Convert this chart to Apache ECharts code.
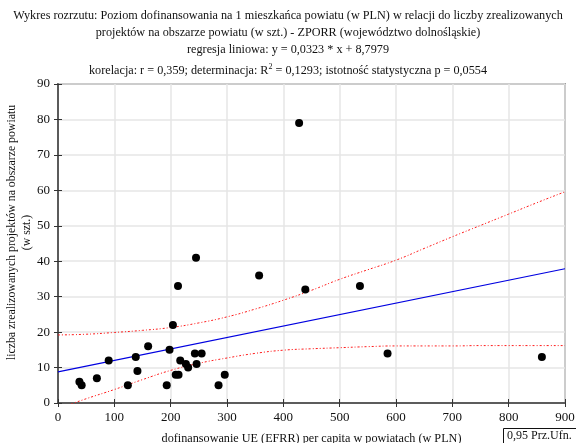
<!DOCTYPE html>
<html><head><meta charset="utf-8">
<script src="https://cdn.jsdelivr.net/npm/echarts@6/dist/echarts.min.js"></script>
<style>html,body{margin:0;padding:0;background:#fff}#c{width:576px;height:443px}</style>
</head><body><div id="c"></div>
<script>
// scatter points: [x (PLN per capita), y (number of projects)]
const pointsX = [38, 42, 69, 90, 124, 138, 141, 160, 193, 198, 204, 213, 209, 214, 217, 227, 231, 243, 246, 255, 245, 285, 296, 357, 428, 439, 536, 585, 859];
const pointsY = [6, 5, 7, 12, 5, 13, 9, 16, 5, 15, 22, 33, 8, 8, 12, 11, 10, 14, 11, 14, 41, 5, 8, 36, 79, 32, 33, 14, 13];
// regression line endpoints (y = 0,0323*x + 8,7979)
const regX = [0, 900];
const regY = [8.8, 37.87];
// 0.95 confidence band
const bandX = [0, 50, 100, 150, 200, 250, 300, 350, 400, 450, 500, 550, 600, 650, 700, 750, 800, 850, 900];
const bandUpper = [19.2, 19.4, 19.9, 20.5, 21.3, 22.6, 24.3, 26.5, 29.0, 31.8, 34.9, 37.6, 40.3, 43.6, 46.9, 50.1, 53.3, 56.5, 59.6];
const bandLower = [-1.6, 1.2, 3.8, 6.6, 9.2, 11.2, 12.7, 14.0, 14.9, 15.3, 15.6, 15.9, 16.1, 16.1, 16.1, 16.2, 16.2, 16.2, 16.2];
const xTicks = {min: 0, max: 900, interval: 100};
const yTicks = {min: 0, max: 90, interval: 10};

const titleLines = [
  'Wykres rozrzutu: Poziom dofinansowania na 1 mieszkańca powiatu (w PLN) w relacji do liczby zrealizowanych',
  'projektów na obszarze powiatu (w szt.) - ZPORR (województwo dolnośląskie)',
  'regresja liniowa: y = 0,0323 * x + 8,7979'
];
const xName = 'dofinansowanie UE (EFRR) per capita w powiatach (w PLN)';
const yName = 'liczba zrealizowanych projektów na obszarze powiatu\n(w szt.)';
const legendText = '0,95 Prz.Ufn.';

const FONT = '"Liberation Serif", "DejaVu Serif", serif';
const chart = echarts.init(document.getElementById('c'), null, {renderer: 'canvas'});
const zip = (a, b) => a.map((v, i) => [v, b[i]]);
const bandStyle = {color: '#ff1a1a', width: 1, type: [2, 2, 1, 2]};
const TS = {fontFamily: FONT, fontSize: 12.2, fontWeight: 'normal', color: '#111'};

const axisCommon = {
  axisLine: {show: true, lineStyle: {color: '#555', width: 1.5}},
  axisTick: {show: true, inside: true, length: 4, lineStyle: {color: '#333'}},
  splitLine: {show: true, lineStyle: {color: '#e6e6e6', width: 1.5}},
  axisLabel: {color: '#111', fontFamily: FONT, fontSize: 13}
};

chart.setOption({
  animation: false,
  backgroundColor: '#fff',
  title: [
    {text: titleLines[0], left: 'center', top: 5, textStyle: TS},
    {text: titleLines[1], left: 'center', top: 22, textStyle: TS},
    {text: titleLines[2], left: 'center', top: 39, textStyle: TS},
    {text: 'korelacja: r = 0,359; determinacja: R{sup|2} = 0,1293; istotność statystyczna p = 0,0554', left: 'center', top: 58,
      textStyle: Object.assign({}, TS, {
        rich: {sup: {fontFamily: FONT, fontSize: 8, color: '#111', padding: [0, 0, 7, 0]}}})}
  ],
  grid: {left: 58, right: 11, top: 84, bottom: 40, show: true, borderColor: '#555', borderWidth: 1.5, containLabel: false, outerBoundsMode: 'none'},
  xAxis: [
    Object.assign({type: 'value', min: xTicks.min, max: xTicks.max, interval: xTicks.interval,
      name: xName, nameLocation: 'middle', nameGap: 30, nameMoveOverlap: false,
      nameTextStyle: {fontFamily: FONT, fontSize: 12.2, color: '#111'}}, axisCommon),
    {type: 'value', position: 'top', min: xTicks.min, max: xTicks.max, interval: xTicks.interval,
      axisLine: {show: true, lineStyle: {color: '#555', width: 1.5}}, axisTick: {show: true, inside: true, length: 4, lineStyle: {color: '#333'}},
      axisLabel: {show: false}, splitLine: {show: false}}
  ],
  yAxis: [
    Object.assign({type: 'value', min: yTicks.min, max: yTicks.max, interval: yTicks.interval,
      name: yName, nameLocation: 'middle', nameGap: 24, nameMoveOverlap: false,
      nameTextStyle: {fontFamily: FONT, fontSize: 11.8, color: '#111', lineHeight: 15, padding: [0, 0, 0, 22]}}, axisCommon),
    {type: 'value', position: 'right', min: yTicks.min, max: yTicks.max, interval: yTicks.interval,
      axisLine: {show: true, lineStyle: {color: '#555', width: 1.5}}, axisTick: {show: true, inside: true, length: 4, lineStyle: {color: '#333'}},
      axisLabel: {show: false}, splitLine: {show: false}}
  ],
  series: [
    {type: 'line', data: zip(bandX, bandUpper), showSymbol: false, smooth: true, lineStyle: bandStyle, clip: true, z: 3},
    {type: 'line', data: zip(bandX, bandLower), showSymbol: false, smooth: true, lineStyle: bandStyle, clip: true, z: 3},
    {type: 'line', data: zip(regX, regY), showSymbol: false, lineStyle: {color: '#0000e0', width: 1.2}, clip: true, z: 3},
    {type: 'scatter', data: zip(pointsX, pointsY), symbol: 'circle', symbolSize: 8, itemStyle: {color: '#000', opacity: 1}, z: 5}
  ],
  graphic: [
    {type: 'rect', left: 503, top: 428, shape: {width: 80, height: 20}, style: {fill: '#fff', stroke: '#111', lineWidth: 1}},
    {type: 'text', left: 507, top: 430, style: {text: legendText, font: '12px ' + FONT, fill: '#111'}}
  ]
});
</script></body></html>
